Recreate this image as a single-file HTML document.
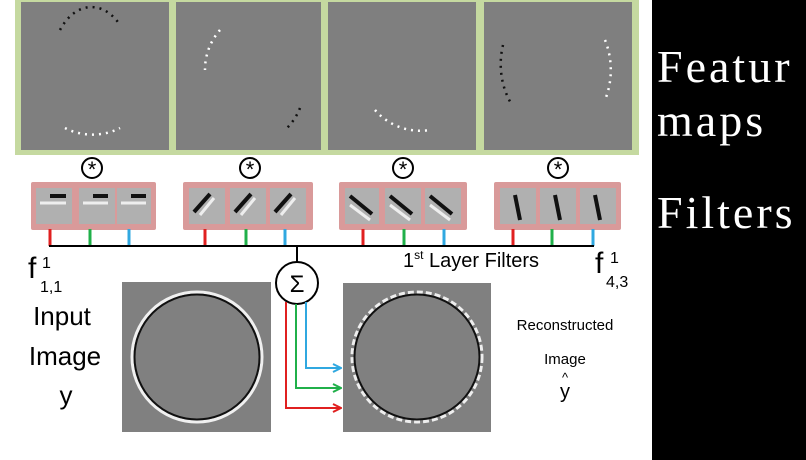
<!DOCTYPE html>
<html><head><meta charset="utf-8"><style>
html,body{margin:0;padding:0;background:#fff;width:806px;height:460px;overflow:hidden}
svg{display:block}
.s{font-family:"Liberation Sans","DejaVu Sans",sans-serif}
.w{font-family:"Liberation Serif","DejaVu Serif",serif;fill:#fff}
</style></head><body>
<svg width="806" height="460" viewBox="0 0 806 460">
<defs>
<marker id="ar" markerWidth="10" markerHeight="10" refX="9" refY="5" orient="auto" markerUnits="userSpaceOnUse"><path d="M1,1 L9,5 L1,9" fill="none" stroke="context-stroke" stroke-width="2"/></marker>
</defs>
<rect x="652" y="0" width="154" height="460" fill="#000"/>
<text class="w" x="657" y="82" font-size="46" letter-spacing="3">Featur</text>
<text class="w" x="657" y="136" font-size="46" letter-spacing="3">maps</text>
<text class="w" x="657" y="228" font-size="46" letter-spacing="3">Filters</text>

<rect x="15" y="-3" width="624" height="158" fill="#c5d9a0"/>
<g>
<rect x="21" y="2" width="148" height="148" fill="#7f7f7f"/>
<rect x="176" y="2" width="145" height="148" fill="#7f7f7f"/>
<rect x="328" y="2" width="148" height="148" fill="#7f7f7f"/>
<rect x="484" y="2" width="148" height="148" fill="#7f7f7f"/>
<path d="M60,30 A40,60 0 0 1 120,25" stroke="#111" stroke-width="2.5" stroke-dasharray="2 5" fill="none"/>
<path d="M65,128 A50,40 0 0 0 120,128" stroke="#fff" stroke-width="2.5" stroke-dasharray="2 5" fill="none"/>
<path d="M220,30 A60,60 0 0 0 205,70" stroke="#fff" stroke-width="2.5" stroke-dasharray="2 5" fill="none"/>
<path d="M300,108 A60,60 0 0 1 285,130" stroke="#111" stroke-width="2.5" stroke-dasharray="2 5" fill="none"/>
<path d="M375,110 A60,60 0 0 0 430,130" stroke="#fff" stroke-width="2.5" stroke-dasharray="2 5" fill="none"/>
<path d="M503,45 A60,70 0 0 0 512,105" stroke="#111" stroke-width="2.5" stroke-dasharray="2 5" fill="none"/>
<path d="M605,40 A60,70 0 0 1 605,100" stroke="#fff" stroke-width="2.5" stroke-dasharray="2 5" fill="none"/>
</g>
<g class="s" font-size="22" text-anchor="middle">
<circle cx="92" cy="168" r="10" fill="#fff" stroke="#000" stroke-width="2"/><text x="92" y="177">*</text>
<circle cx="250" cy="168" r="10" fill="#fff" stroke="#000" stroke-width="2"/><text x="250" y="177">*</text>
<circle cx="403" cy="168" r="10" fill="#fff" stroke="#000" stroke-width="2"/><text x="403" y="177">*</text>
<circle cx="558" cy="168" r="10" fill="#fff" stroke="#000" stroke-width="2"/><text x="558" y="177">*</text>
</g>
<g>
<rect x="31" y="182" width="125" height="48" rx="2" fill="#d99a9a"/>
<rect x="183" y="182" width="130" height="48" rx="2" fill="#d99a9a"/>
<rect x="339" y="182" width="128" height="48" rx="2" fill="#d99a9a"/>
<rect x="494" y="182" width="127" height="48" rx="2" fill="#d99a9a"/>
<g fill="#b0b0b0">
<rect x="36" y="188" width="36" height="36"/><rect x="79" y="188" width="36" height="36"/><rect x="117" y="188" width="34" height="36"/>
<rect x="189" y="188" width="36" height="36"/><rect x="230" y="188" width="36" height="36"/><rect x="270" y="188" width="36" height="36"/>
<rect x="345" y="188" width="34" height="36"/><rect x="385" y="188" width="36" height="36"/><rect x="425" y="188" width="36" height="36"/>
<rect x="500" y="188" width="36" height="36"/><rect x="540" y="188" width="36" height="36"/><rect x="580" y="188" width="36" height="36"/>
</g>
<g stroke="#eee" stroke-width="3">
<path d="M40,203 H66 M83,203 H108 M121,203 H146"/>
<path d="M200,215 L214,198 M241,215 L255,198 M281,215 L295,198"/>
<path d="M350,205 L370,220 M390,205 L410,220 M430,205 L450,220"/>
</g>
<g stroke="#111" stroke-width="4">
<path d="M50,196 H66 M93,196 H108 M131,196 H146"/>
<path d="M194,212 L210,194 M235,212 L251,194 M275,212 L291,194"/>
<path d="M350,196 L372,214 M390,196 L412,214 M430,196 L452,214"/>
<path d="M515,195 L520,220 M555,195 L560,220 M595,195 L600,220"/>
</g>
</g>
<g stroke-width="3">
<path d="M50,229 V246 M205,229 V246 M363,229 V246 M513,229 V246" stroke="#e02020"/>
<path d="M90,229 V246 M246,229 V246 M404,229 V246 M552,229 V246" stroke="#20b04a"/>
<path d="M129,229 V246 M285,229 V246 M444,229 V246 M593,229 V246" stroke="#30a8e0"/>
</g>
<path d="M49,246 H594 M297,246 V263" stroke="#000" stroke-width="2"/>
<circle cx="297" cy="283" r="21" fill="#fff" stroke="#000" stroke-width="2"/>
<text class="s" x="297" y="292" font-size="24" text-anchor="middle">Σ</text>
<g class="s" fill="#000">
<text x="28" y="278" font-size="30">f</text><text x="42" y="268" font-size="16">1</text><text x="40" y="292" font-size="16">1,1</text>
<text x="595" y="273" font-size="30">f</text><text x="610" y="263" font-size="16">1</text><text x="606" y="287" font-size="16">4,3</text>
<text x="403" y="267" font-size="20">1<tspan font-size="12" dy="-8">st</tspan><tspan dy="8"> Layer Filters</tspan></text>
<text x="62" y="325" font-size="26" text-anchor="middle">Input</text>
<text x="65" y="365" font-size="26" text-anchor="middle">Image</text>
<text x="66" y="404" font-size="26" text-anchor="middle">y</text>
<text x="565" y="330" font-size="15" text-anchor="middle">Reconstructed</text>
<text x="565" y="364" font-size="15" text-anchor="middle">Image</text>
<text x="565" y="398" font-size="20" text-anchor="middle">y</text><text x="565" y="382" font-size="13" text-anchor="middle">^</text>
</g>
<g>
<rect x="122" y="282" width="149" height="150" fill="#808080"/>
<circle cx="197" cy="357" r="65" fill="none" stroke="#f0f0f0" stroke-width="3"/>
<circle cx="197" cy="357" r="62.5" fill="none" stroke="#111" stroke-width="2"/>
</g>
<g>
<rect x="343" y="283" width="148" height="149" fill="#808080"/>
<circle cx="417" cy="357" r="65" fill="none" stroke="#eee" stroke-width="3" stroke-dasharray="6 3"/>
<circle cx="417" cy="357" r="62.5" fill="none" stroke="#111" stroke-width="2"/>
</g>
<g fill="none" stroke-width="2">
<path d="M306,302 V368 H341" stroke="#30a8e0" marker-end="url(#ar)"/>
<path d="M296,304 V388 H341" stroke="#20b04a" marker-end="url(#ar)"/>
<path d="M286,302 V408 H341" stroke="#e02020" marker-end="url(#ar)"/>
</g>
</svg>
</body></html>
